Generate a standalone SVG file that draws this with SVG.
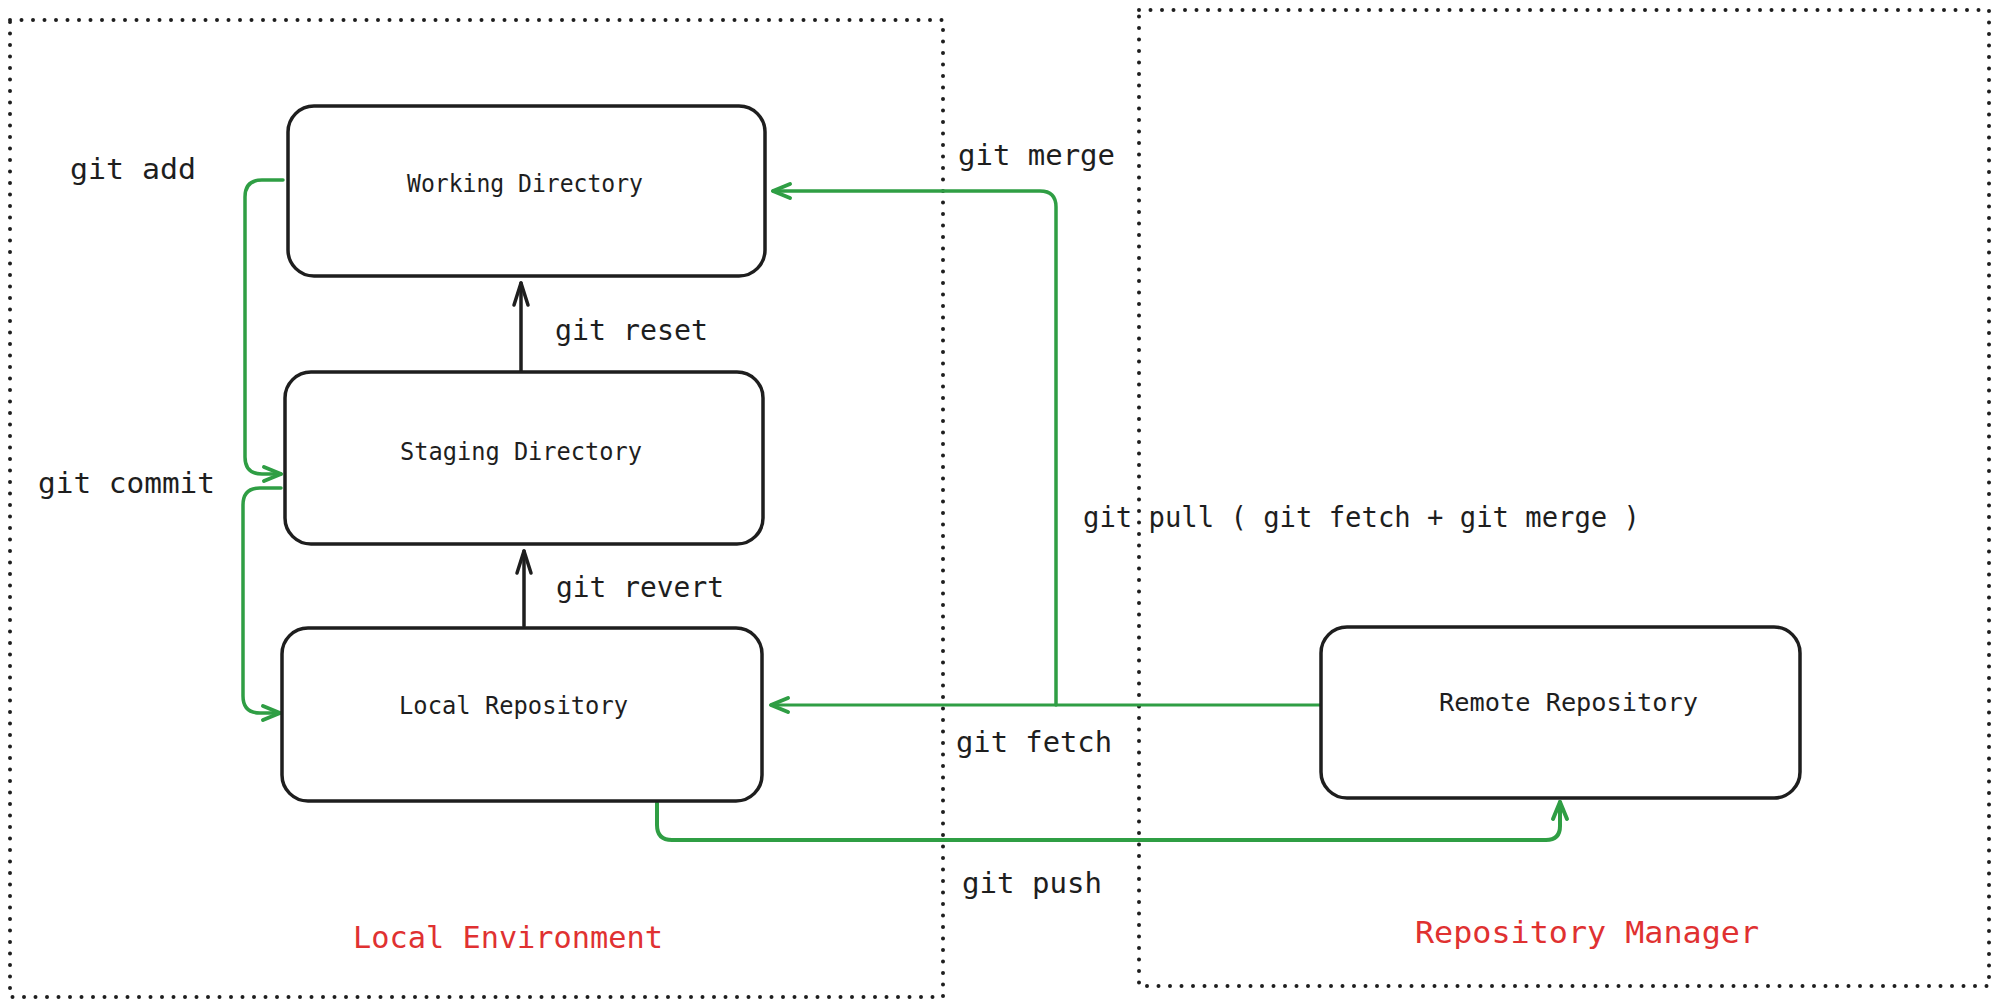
<svg xmlns="http://www.w3.org/2000/svg" width="1997" height="1007" viewBox="0 0 1997 1007">
<style>
.bg{fill:#ffffff}
.zone{fill:none;stroke:#1e1e1e;stroke-width:4;stroke-dasharray:0 11.5;stroke-linecap:round}
.node{fill:#ffffff;stroke:#1e1e1e;stroke-width:3.5}
.nlabel{font-family:"DejaVu Sans Mono","Liberation Mono",monospace;font-size:24px;fill:#1e1e1e}
.elabel{font-family:"DejaVu Sans Mono","Liberation Mono",monospace;font-size:28px;fill:#1e1e1e}
.zlabel{font-family:"DejaVu Sans Mono","Liberation Mono",monospace;font-size:30px;fill:#e03131}
.g{fill:none;stroke:#2f9e44;stroke-width:3.5;stroke-linecap:round;stroke-linejoin:round}
.k{fill:none;stroke:#1e1e1e;stroke-width:3.5;stroke-linecap:round}
</style>
<defs>
<marker id="ag" markerUnits="userSpaceOnUse" viewBox="-20 -20 40 40" markerWidth="40" markerHeight="40" refX="0" refY="0" orient="auto" overflow="visible">
<path d="M-17,-7 L0,0 L-17,7" fill="none" stroke="#2f9e44" stroke-width="4" stroke-linecap="round" stroke-linejoin="round"/>
</marker>
<marker id="ak" markerUnits="userSpaceOnUse" viewBox="-20 -20 40 40" markerWidth="40" markerHeight="40" refX="0" refY="0" orient="auto" overflow="visible">
<path d="M-22,-7 L0,0 L-22,7" fill="none" stroke="#1e1e1e" stroke-width="3.5" stroke-linecap="round" stroke-linejoin="round"/>
</marker>
</defs>
<rect class="bg" x="0" y="0" width="1997" height="1007"/>

<g id="zone-local">
<rect class="zone" x="10" y="20" width="933" height="977"/>
<text class="zlabel" x="353" y="948" textLength="310" lengthAdjust="spacingAndGlyphs">Local Environment</text>
</g>
<g id="zone-remote">
<rect class="zone" x="1139" y="10" width="850" height="976"/>
<text class="zlabel" x="1415" y="943" textLength="344" lengthAdjust="spacingAndGlyphs">Repository Manager</text>
</g>

<g id="connectors">
<path id="e-add" class="g" d="M283,180 H262 Q245,180 245,197 V457 Q245,474 262,474 H281" marker-end="url(#ag)"/>
<path id="e-commit" class="g" d="M281,488 H260 Q243,488 243,505 V696 Q243,713 260,713 H280" marker-end="url(#ag)"/>
<path id="e-reset" class="k" d="M521,372 V283" marker-end="url(#ak)"/>
<path id="e-revert" class="k" d="M524,626 V551" marker-end="url(#ak)"/>
<path id="e-fetch" class="g" d="M1321,705 H771" marker-end="url(#ag)" style="stroke-width:3"/>
<path id="e-merge" class="g" d="M1056,705 V207 Q1056,191 1040,191 H773" marker-end="url(#ag)"/>
<path id="e-push" class="g" d="M657,803 V825 Q657,840 672,840 H1546 Q1560,840 1560,826 V802" marker-end="url(#ag)" style="stroke-width:4"/>
<text class="elabel" x="70" y="179" textLength="126" lengthAdjust="spacingAndGlyphs">git add</text>
<text class="elabel" x="38" y="493" textLength="177" lengthAdjust="spacingAndGlyphs">git commit</text>
<text class="elabel" x="555" y="340" textLength="153" lengthAdjust="spacingAndGlyphs">git reset</text>
<text class="elabel" x="556" y="597" textLength="168" lengthAdjust="spacingAndGlyphs">git revert</text>
<text class="elabel" x="958" y="165" textLength="157" lengthAdjust="spacingAndGlyphs">git merge</text>
<text class="elabel" x="1083" y="527" textLength="557" lengthAdjust="spacingAndGlyphs">git pull ( git fetch + git merge )</text>
<text class="elabel" x="956" y="752" textLength="156" lengthAdjust="spacingAndGlyphs">git fetch</text>
<text class="elabel" x="962" y="893" textLength="140" lengthAdjust="spacingAndGlyphs">git push</text>
</g>

<g id="node-working">
<rect class="node" x="288" y="106" width="477" height="170" rx="26"/>
<text class="nlabel" x="407" y="192" textLength="236" lengthAdjust="spacingAndGlyphs">Working Directory</text>
</g>
<g id="node-staging">
<rect class="node" x="285" y="372" width="478" height="172" rx="26"/>
<text class="nlabel" x="400" y="460" textLength="242" lengthAdjust="spacingAndGlyphs">Staging Directory</text>
</g>
<g id="node-local">
<rect class="node" x="282" y="628" width="480" height="173" rx="26"/>
<text class="nlabel" x="399" y="714" textLength="229" lengthAdjust="spacingAndGlyphs">Local Repository</text>
</g>
<g id="node-remote">
<rect class="node" x="1321" y="627" width="479" height="171" rx="26"/>
<text class="nlabel" x="1439" y="711" textLength="259" lengthAdjust="spacingAndGlyphs">Remote Repository</text>
</g>
</svg>
